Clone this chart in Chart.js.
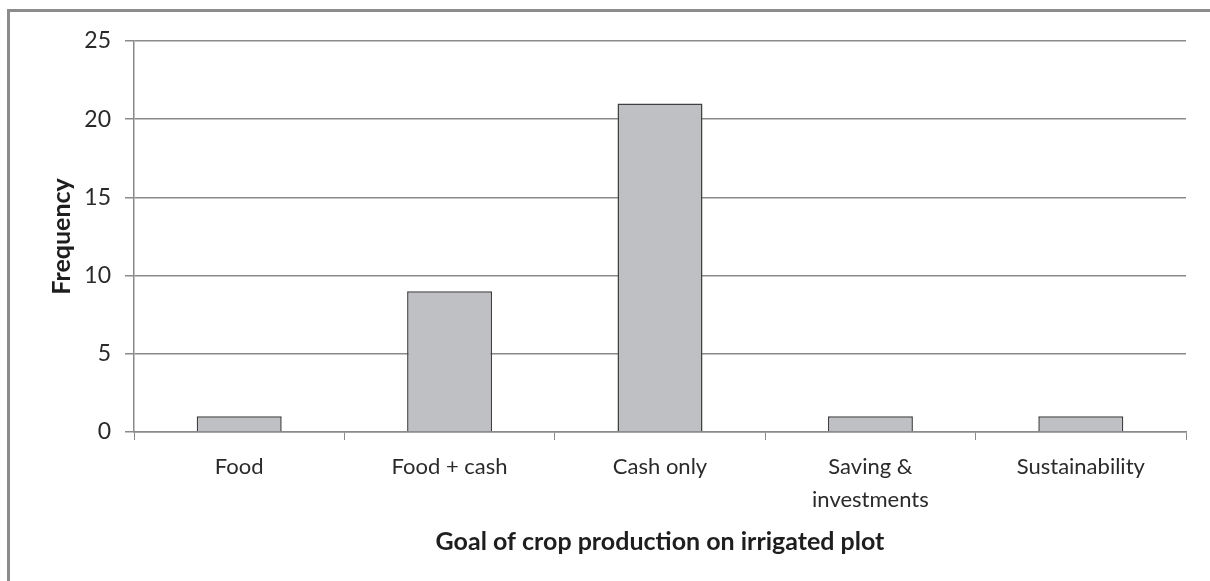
<!DOCTYPE html>
<html>
<head>
<meta charset="utf-8">
<script src="https://cdn.jsdelivr.net/npm/chart.js@4"></script>
<style>
  html, body { margin: 0; padding: 0; background: #fff; }
  .frame {
    position: absolute; left: 7px; top: 9px; width: 1300px; height: 700px;
    border-left: 3px solid #8c8c8c; border-top: 3px solid #8c8c8c;
  }
  .wrap { position: absolute; left: 0; top: 0; width: 1210px; height: 581px; }
</style>
</head>
<body>
<div class="frame"></div>
<div class="wrap"><canvas id="goalChart" width="1210" height="581"></canvas></div>
<script>
// Goal of crop production on irrigated plot
const categories = ['Food', 'Food + cash', 'Cash only', ['Saving &', 'investments'], 'Sustainability'];
const frequency = [1, 9, 21, 1, 1];
const yTicks = [0, 5, 10, 15, 20, 25];

const gridColor = '#8a8a8a';
const textColor = '#2a2a2a';
const fontFamily = 'Lato, "Open Sans", sans-serif';
const padLeft = 48;

const ctx = document.getElementById('goalChart').getContext('2d');
new Chart(ctx, {
    type: 'bar',
    data: {
        labels: categories,
        datasets: [{
            data: frequency,
            backgroundColor: '#bfc0c4',
            borderColor: '#404040',
            borderWidth: 1.5,
            categoryPercentage: 1,
            barPercentage: 0.404
        }]
    },
    options: {
        responsive: false,
        animation: false,
        layout: {
            padding: { left: padLeft, top: 41, right: 24, bottom: 0 }
        },
        plugins: {
            legend: { display: false },
            tooltip: { enabled: false }
        },
        scales: {
            x: {
                grid: {
                    offset: true,
                    drawOnChartArea: false,
                    drawTicks: true,
                    tickLength: 8,
                    color: gridColor
                },
                border: { color: gridColor, width: 1.5 },
                ticks: {
                    color: textColor,
                    padding: 10,
                    maxRotation: 0,
                    font: { family: fontFamily, size: 22, lineHeight: 1.5 }
                },
                title: {
                    display: true,
                    text: 'Goal of crop production on irrigated plot',
                    color: '#1e1e1e',
                    padding: { top: 0, bottom: 25 },
                    font: { family: fontFamily, size: 25, weight: 'bold', lineHeight: 1.15 }
                },
                afterFit: function(scale) {
                    scale.height = 581 - 432;
                }
            },
            y: {
                min: 0,
                max: 25,
                afterBuildTicks: function(scale) {
                    scale.ticks = yTicks.map(v => ({ value: v }));
                },
                grid: {
                    color: gridColor,
                    lineWidth: 1.5,
                    tickLength: 9
                },
                border: { color: gridColor, width: 1.5 },
                ticks: {
                    color: textColor,
                    padding: 14,
                    font: { family: fontFamily, size: 23 }
                },
                title: {
                    display: true,
                    text: 'Frequency',
                    color: '#1e1e1e',
                    padding: { top: 0, bottom: 0 },
                    font: { family: fontFamily, size: 25, weight: 'bold', lineHeight: 1.15 }
                },
                afterFit: function(scale) {
                    scale.width = 134 - padLeft;
                }
            }
        }
    }
});
</script>
</body>
</html>
